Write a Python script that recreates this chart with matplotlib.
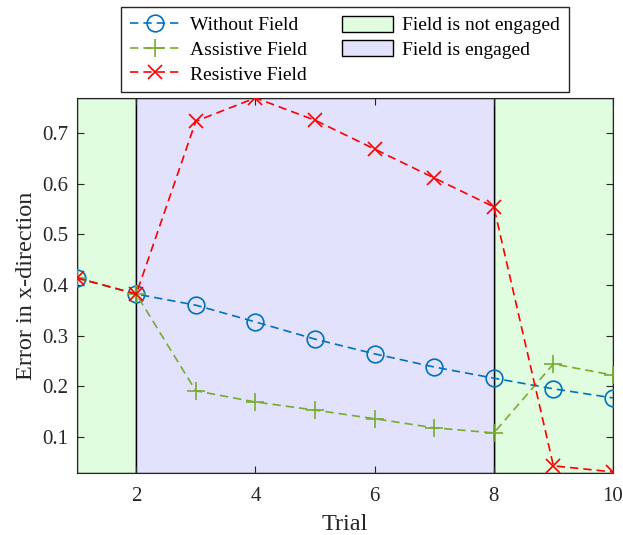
import numpy as np
import matplotlib.pyplot as plt
from matplotlib.patches import Patch

plt.rcParams['font.family'] = ['Liberation Serif', 'DejaVu Serif']

trial = [1, 2, 3, 4, 5, 6, 7, 8, 9, 10]
without_field = [0.414, 0.382, 0.360, 0.327, 0.293, 0.264, 0.238, 0.216, 0.195, 0.177]
assistive = [0.414, 0.382, 0.191, 0.169, 0.153, 0.136, 0.118, 0.108, 0.244, 0.222]
resistive = [0.414, 0.382, 0.723, 0.769, 0.725, 0.668, 0.611, 0.554, 0.043, 0.031]

off_spans = [(1, 2), (8, 10)]
on_spans = [(2, 8)]

green_bg = '#e0fde0'
blue_bg = '#e2e2fc'

fig = plt.figure(figsize=(6.23, 5.35), dpi=100)
ax = fig.add_axes([0.123, 0.116, 0.861, 0.701])

for a, b in off_spans:
    ax.axvspan(a, b, facecolor=green_bg, edgecolor='black', lw=1, zorder=0)
for a, b in on_spans:
    ax.axvspan(a, b, facecolor=blue_bg, edgecolor='black', lw=1, zorder=0)

dash = (0, (5, 3))
l1, = ax.plot(trial, without_field, ls=dash, color='#0072BD', lw=1.2,
              marker='o', ms=12, mfc='none', mew=1.2, zorder=3)
l2, = ax.plot(trial, assistive, ls=dash, color='#77AC30', lw=1.2,
              marker='+', ms=13, mew=1.2, zorder=3)
l3, = ax.plot(trial, resistive, ls=dash, color='#FF0000', lw=1.2,
              marker='x', ms=10, mew=1.2, zorder=3)

ax.set_xlim(1, 10)
ax.set_ylim(0.029, 0.769)
ax.set_xticks([2, 4, 6, 8, 10])
ax.set_yticks([0.1, 0.2, 0.3, 0.4, 0.5, 0.6, 0.7])
ax.tick_params(direction='in', top=True, right=True, labelsize=15,
               colors='#262626', length=5)
ax.tick_params(axis='x', pad=10)
ax.tick_params(axis='y', pad=6)
for s in ax.spines.values():
    s.set_color('#262626')
ax.set_xlabel('Trial', fontsize=17.5, color='#262626', labelpad=6)
ax.set_ylabel('Error in x-direction', fontsize=17.5, color='#262626', labelpad=4)

handles = [l1, l2, l3,
           Patch(facecolor=green_bg, edgecolor='black'),
           Patch(facecolor=blue_bg, edgecolor='black')]
labels = ['Without Field', 'Assistive Field', 'Resistive Field',
          'Field is not engaged', 'Field is engaged']
leg = fig.legend(handles, labels, ncol=2, loc='upper center',
                 bbox_to_anchor=(0.554, 0.987), fontsize=14,
                 fancybox=False, edgecolor='#262626', framealpha=1,
                 borderaxespad=0, handlelength=2.6, handleheight=0.9,
                 columnspacing=1.8, labelspacing=0.3, borderpad=0.45,
                 handletextpad=0.5)
leg.get_frame().set_linewidth(1)

fig.savefig('out.png', dpi=100)
